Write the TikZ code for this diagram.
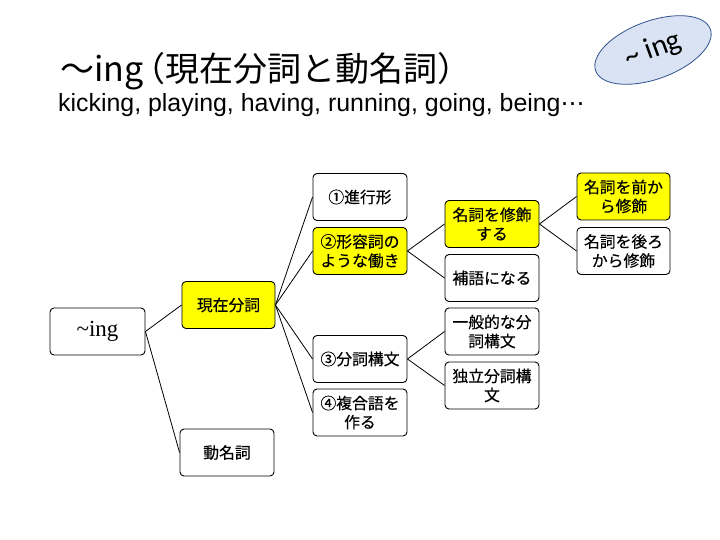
\documentclass[tikz,border=0pt]{standalone}
\usepackage{fontspec}
\setmainfont{Liberation Sans}
\newfontfamily\cjk{Noto Sans CJK JP}
\newfontfamily\cjkb[FakeBold=0.4]{Noto Sans CJK JP}
\newfontfamily\timesf{Liberation Serif}
\newfontfamily\carl{Carlito}
\newfontfamily\dejav{DejaVu Sans}
\usetikzlibrary{shapes.geometric}
\definecolor{ellfill}{HTML}{DAE3F3}
\definecolor{elldraw}{HTML}{2F528F}
\definecolor{ybox}{HTML}{FFFF00}
\begin{document}
\begin{tikzpicture}[x=1pt,y=-1pt,
  box/.style={draw=black, line width=0.9pt, rounded corners=4pt, fill=white,
    minimum width=94pt, minimum height=47pt, inner sep=0pt, align=center,
    font=\cjkb\fontsize{15.8}{19}\selectfont},
  ybx/.style={box, fill=ybox},
  conn/.style={draw=black, line width=0.8pt}]
\useasboundingbox (0,0) rectangle (720,540);
\fill[white] (0,0) rectangle (720,540);
% title
\node[anchor=base west, inner sep=0pt, font=\cjk\fontsize{34}{40}\selectfont] (title) at (60,82) {～ing\kern-12pt（現在分詞と動名詞）};
\node[anchor=base west, inner sep=0pt, font=\fontsize{24.9}{28}\selectfont] (sub) at (58,112) {kicking, playing, having, running, going, being{\dejav\fontsize{24}{26}\selectfont ⋯}};
% ellipse
\node[ellipse, draw=elldraw, fill=ellfill, line width=0.8pt, minimum width=122pt, minimum height=58pt, rotate=20, inner sep=0pt, font=\carl\fontsize{30}{34}\selectfont] (ell) at (653,50) {\textasciitilde{} ing};
% nodes
\node[box, minimum width=95pt, font=\timesf\fontsize{23}{26}\selectfont] (ing) at (97.5,331.5) {\textasciitilde ing};
\node[ybx, minimum width=93pt] (gen) at (228.5,305) {現在分詞};
\node[box] (dou) at (227,452.5) {動名詞};
\node[box] (n1) at (360,197) {①進行形};
\node[ybx] (n2) at (360,251) {②形容詞の\\ような働き};
\node[box] (n3) at (360,359) {③分詞構文};
\node[box] (n4) at (360,412.5) {④複合語を\\作る};
\node[ybx] (m1) at (492,224) {名詞を修飾\\する};
\node[box] (m2) at (492,278) {補語になる};
\node[box] (m3) at (492,331.5) {一般的な分\\詞構文};
\node[box] (m4) at (492,385.5) {独立分詞構\\文};
\node[ybx, minimum width=93pt] (k1) at (623.5,196.5) {名詞を前か\\ら修飾};
\node[box, minimum width=93pt] (k2) at (623.5,251) {名詞を後ろ\\から修飾};
% connectors
\draw[conn] (ing.east) -- (gen.west);
\draw[conn] (ing.east) -- (dou.west);
\draw[conn] (gen.east) -- (n1.west);
\draw[conn] (gen.east) -- (n2.west);
\draw[conn] (gen.east) -- (n3.west);
\draw[conn] (gen.east) -- (n4.west);
\draw[conn] (n2.east) -- (m1.west);
\draw[conn] (n2.east) -- (m2.west);
\draw[conn] (n3.east) -- (m3.west);
\draw[conn] (n3.east) -- (m4.west);
\draw[conn] (m1.east) -- (k1.west);
\draw[conn] (m1.east) -- (k2.west);
\end{tikzpicture}
\end{document}
